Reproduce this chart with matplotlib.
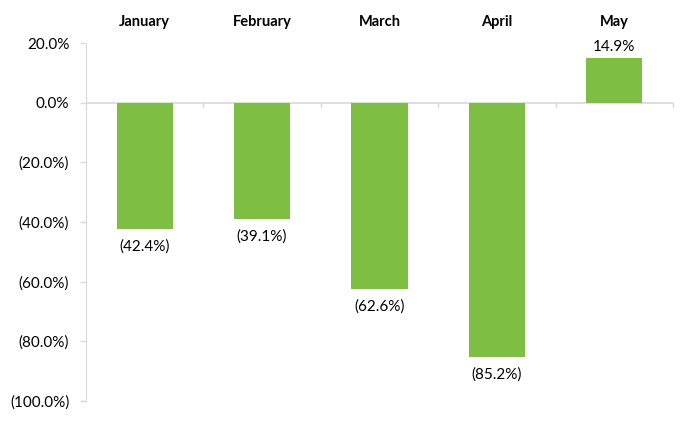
import matplotlib.pyplot as plt
from matplotlib.ticker import FuncFormatter

plt.rcParams['font.family'] = ['Lato', 'DejaVu Sans']

months = ["January", "February", "March", "April", "May"]
changes = [-42.4, -39.1, -62.6, -85.2, 14.9]
bar_color = "#7DBE43"
axis_color = "#D9D9D9"


def pct(v):
    if v < 0:
        return "({:.1f}%)".format(-v)
    return "{:.1f}%".format(v)


fig = plt.figure(figsize=(6.97, 4.22), dpi=100)
ax = fig.add_axes([0.1234, 0.0498, 0.8422, 0.8482])

x = list(range(len(months)))
ax.bar(x, changes, width=0.48, color=bar_color, zorder=2)

ax.set_xlim(-0.5, len(months) - 0.5)
ax.set_ylim(-100, 20)
ax.set_yticks([20, 0, -20, -40, -60, -80, -100])
ax.yaxis.set_major_formatter(FuncFormatter(lambda v, p: pct(v)))
ax.tick_params(axis='y', labelsize=11, colors=axis_color, labelcolor="black",
               length=4, width=1, pad=8)

# zero line with category separator ticks
ax.axhline(0, color=axis_color, lw=1.2, zorder=1)
for b in [i + 0.5 for i in range(len(months))]:
    ax.plot([b, b], [0, -1.3], color=axis_color, lw=1, zorder=1, clip_on=False)

ax.set_xticks([])
for s in ["top", "right", "bottom"]:
    ax.spines[s].set_visible(False)
ax.spines["left"].set_color(axis_color)

# month labels on top
for i, m in enumerate(months):
    ax.text(i, 27, m, ha="center", va="center", fontsize=10.5,
            fontweight="bold", clip_on=False)

# data labels
for i, v in enumerate(changes):
    if v < 0:
        ax.text(i, v - 3.5, pct(v), ha="center", va="top", fontsize=11)
    else:
        ax.text(i, v + 1.5, pct(v), ha="center", va="bottom", fontsize=11)

fig.savefig("out.png", dpi=100)
